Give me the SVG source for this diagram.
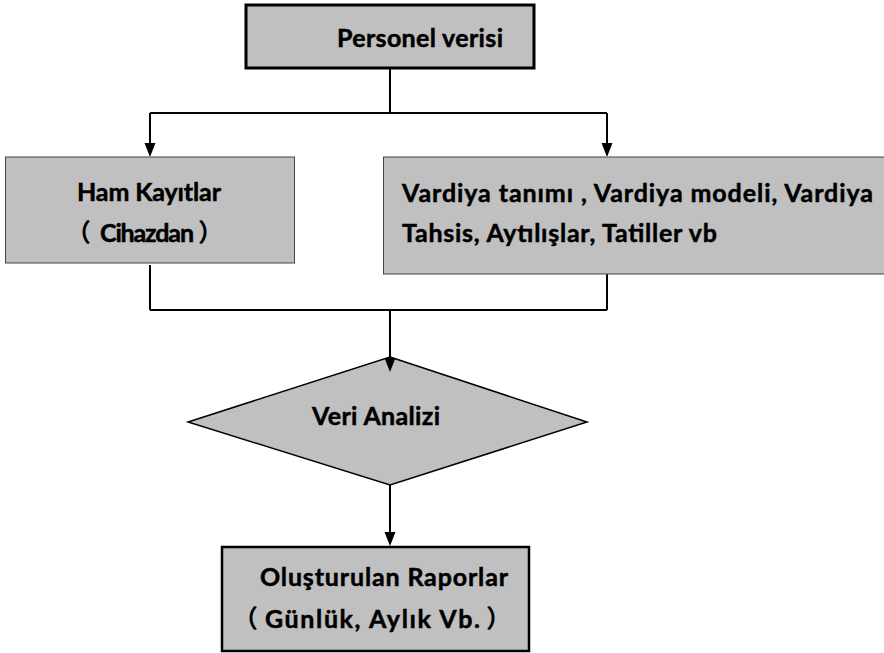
<svg xmlns="http://www.w3.org/2000/svg" width="884" height="653" viewBox="0 0 884 653">
<defs>
<style>
.t{font-family:Lato,"Noto Sans CJK SC",sans-serif;font-weight:bold;font-size:25px;fill:#000;stroke:#000;stroke-width:0.5}
.cjk{font-family:"Noto Sans CJK SC",sans-serif;font-weight:bold;font-size:25px;fill:#000}
.box{fill:#c0c0c0}
.ln{stroke:#000;stroke-width:2;fill:none}
.ah{fill:#000}
</style>
</defs>
<rect width="884" height="653" fill="#fff"/>
<g id="connectors">
<path class="ln" d="M390,69 V113"/>
<path class="ln" d="M150,113 H607"/>
<path class="ln" d="M150,113 V144"/>
<polygon class="ah" points="144.5,143 155.5,143 150,157"/>
<path class="ln" d="M607,113 V144"/>
<polygon class="ah" points="601.5,143 612.5,143 607,157"/>
<path class="ln" d="M150,265 V310"/>
<path class="ln" d="M607,274 V310"/>
<path class="ln" d="M150,310 H607"/>
<path class="ln" d="M390,310 V360"/>
</g>
<g id="personel">
<rect class="box" x="246" y="5" width="288" height="63" stroke="#000" stroke-width="3"/>
<text class="t" x="337" y="47" textLength="166" lengthAdjust="spacing">Personel verisi</text>
</g>
<g id="ham">
<rect class="box" x="5.5" y="157" width="289" height="106" stroke="#444" stroke-width="1"/>
<text class="t" x="77" y="201" textLength="144" lengthAdjust="spacing">Ham Kayıtlar</text>
<text class="cjk" x="66" y="242">（</text>
<text class="t" x="100" y="242" textLength="94" lengthAdjust="spacing">Cihazdan</text>
<text class="cjk" x="198" y="242">）</text>
</g>
<g id="vardiya">
<rect class="box" x="383.5" y="157" width="510" height="117" stroke="#444" stroke-width="1"/>
<text class="t" x="402" y="202" textLength="471" lengthAdjust="spacing">Vardiya tanımı , Vardiya modeli, Vardiya</text>
<text class="t" x="402" y="242" textLength="315" lengthAdjust="spacing">Tahsis, Aytılışlar, Tatiller vb</text>
</g>
<g id="analiz">
<polygon class="box" points="390,357 587,422 390,485 188,422" stroke="#000" stroke-width="1.5"/>
<polygon class="ah" points="384.5,358 395.5,358 390,372"/>
<text class="t" x="312" y="425" textLength="128" lengthAdjust="spacing">Veri Analizi</text>
</g>
<g id="connectors2">
<path class="ln" d="M390,485 V533"/>
<polygon class="ah" points="384.5,532 395.5,532 390,546"/>
</g>
<g id="raporlar">
<rect class="box" x="222" y="547" width="307" height="104" stroke="#000" stroke-width="2.5"/>
<text class="t" x="260" y="586" textLength="248" lengthAdjust="spacing">Oluşturulan Raporlar</text>
<text class="cjk" x="233" y="628">（</text>
<text class="t" x="265" y="628" textLength="215" lengthAdjust="spacing">Günlük, Aylık Vb.</text>
<text class="cjk" x="486" y="628">）</text>
</g>
</svg>
